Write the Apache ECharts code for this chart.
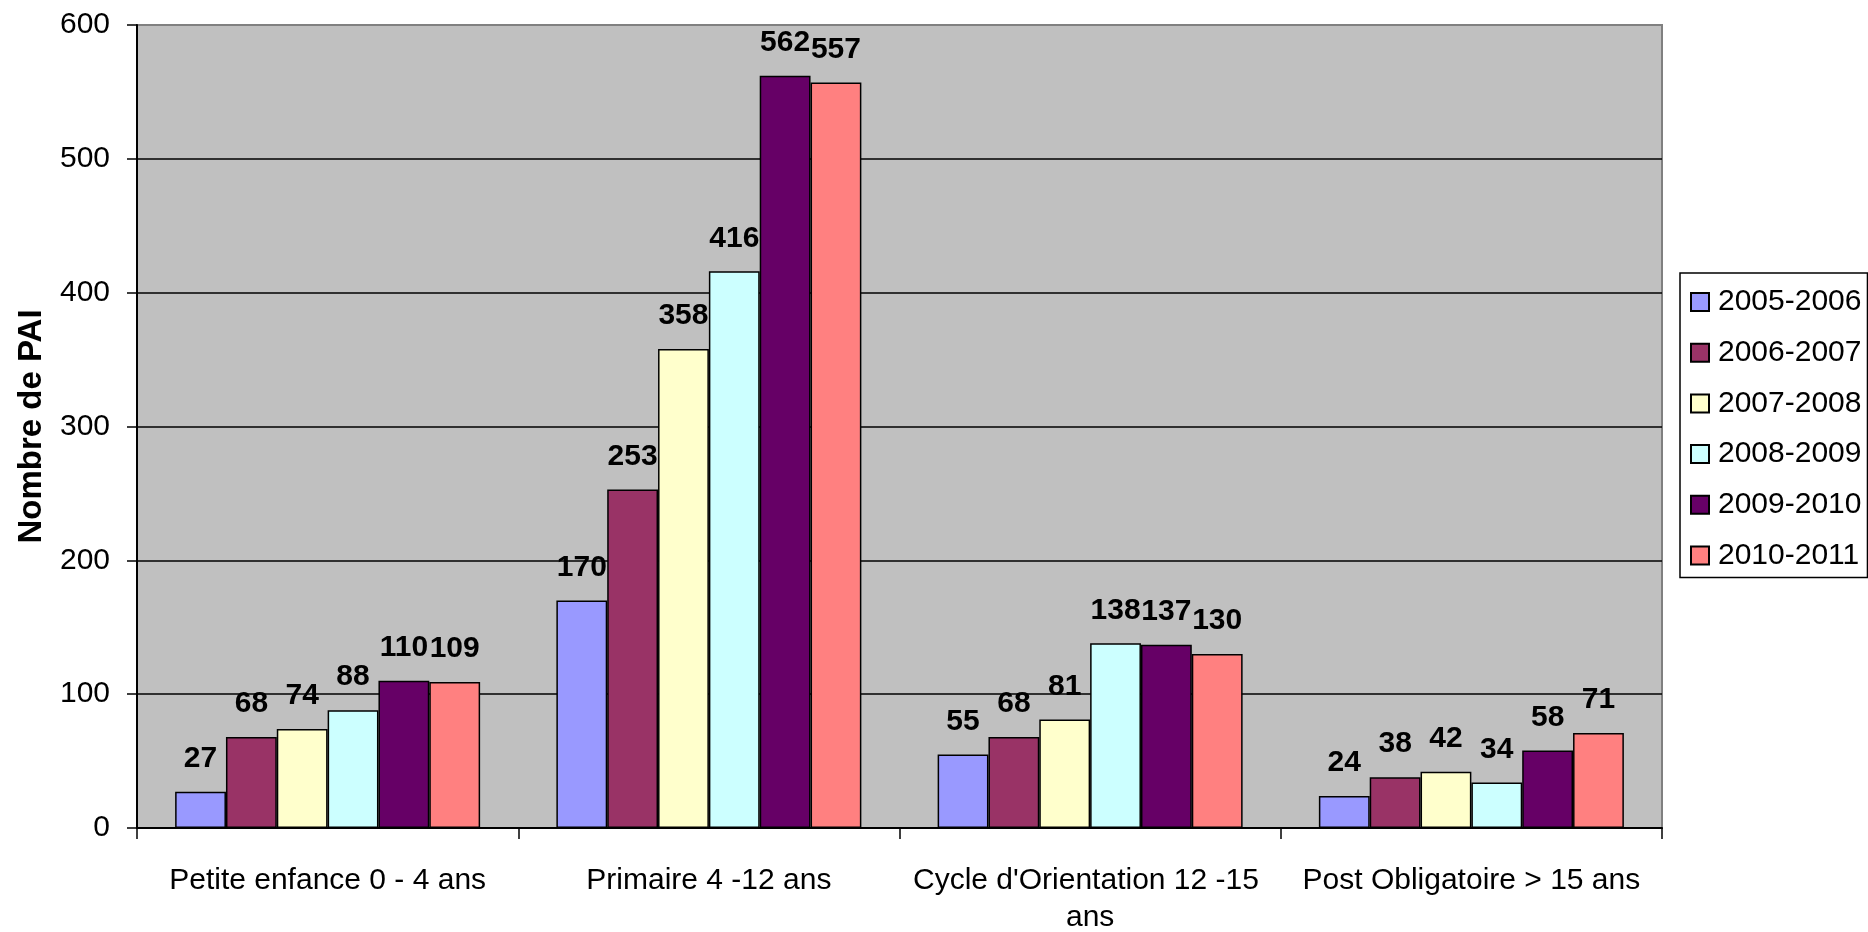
<!DOCTYPE html>
<html>
<head>
<meta charset="utf-8">
<script src="https://cdn.jsdelivr.net/npm/echarts@6/dist/echarts.min.js"></script>
<style>
  html, body { margin: 0; padding: 0; background: #ffffff; }
  #chart { width: 1868px; height: 932px; }
</style>
</head>
<body>
<div id="chart"></div>
<script>
// Age groups on the category axis
const categories = [
  'Petite enfance 0 - 4 ans',
  'Primaire 4 -12 ans',
  "Cycle d'Orientation 12 -15 ans",
  'Post Obligatoire > 15 ans'
];

// School years (one series each)
const years = ['2005-2006', '2006-2007', '2007-2008', '2008-2009', '2009-2010', '2010-2011'];

// Number of PAI per age group, one array per school year
const pai2005 = [27, 170, 55, 24];
const pai2006 = [68, 253, 68, 38];
const pai2007 = [74, 358, 81, 42];
const pai2008 = [88, 416, 138, 34];
const pai2009 = [110, 562, 137, 58];
const pai2010 = [109, 557, 130, 71];

// Value axis ticks
const yTicks = [0, 100, 200, 300, 400, 500, 600];

const seriesValues = [pai2005, pai2006, pai2007, pai2008, pai2009, pai2010];
const colors = ['#9999FF', '#993366', '#FFFFCC', '#CCFFFF', '#660066', '#FF8080'];

const FONT = '"Liberation Sans", Arial, sans-serif';

const chart = echarts.init(document.getElementById('chart'), null, { renderer: 'canvas' });

chart.setOption({
  animation: false,
  backgroundColor: '#ffffff',
  textStyle: { fontFamily: FONT, color: '#000' },
  grid: {
    left: 137, right: 206, top: 25, bottom: 104,
    containLabel: false,
    outerBoundsMode: 'none',
    show: true,
    backgroundColor: '#C0C0C0',
    borderColor: '#808080',
    borderWidth: 2
  },
  legend: {
    orient: 'vertical',
    left: 1680,
    top: 273,
    data: years,
    icon: 'rect',
    itemWidth: 18,
    itemHeight: 18,
    itemGap: 20.7,
    padding: [14, 6, 7, 10],
    borderColor: '#000',
    borderWidth: 1.5,
    backgroundColor: '#ffffff',
    textStyle: { fontFamily: FONT, fontSize: 30, color: '#000', lineHeight: 30, padding: [0, 0, 0, 4] }
  },
  xAxis: {
    type: 'category',
    data: categories,
    axisLine: { lineStyle: { color: '#000', width: 2 } },
    axisTick: { show: true, length: 11, lineStyle: { color: '#000', width: 1.5 } },
    axisLabel: {
      fontFamily: FONT, fontSize: 30, color: '#000',
      margin: 34, lineHeight: 37,
      width: 370, overflow: 'break', interval: 0
    },
    splitLine: { show: false }
  },
  yAxis: {
    type: 'value',
    min: yTicks[0],
    max: yTicks[yTicks.length - 1],
    interval: yTicks[1] - yTicks[0],
    name: 'Nombre de PAI',
    nameLocation: 'middle',
    nameRotate: 90,
    nameGap: 89,
    nameTextStyle: { fontFamily: FONT, fontSize: 33, fontWeight: 'bold', color: '#000' },
    axisLine: { show: true, lineStyle: { color: '#000', width: 2 } },
    axisTick: { show: true, length: 10, lineStyle: { color: '#000', width: 1.5 } },
    axisLabel: { fontFamily: FONT, fontSize: 30, color: '#000', margin: 27 },
    splitLine: { show: true, showMaxLine: false, lineStyle: { color: '#000', width: 1.5 } }
  },
  series: years.map((y, i) => ({
    name: y,
    type: 'bar',
    data: seriesValues[i],
    barGap: '0%',
    barCategoryGap: '20%',
    itemStyle: { color: colors[i], borderColor: '#000', borderWidth: 1.5 },
    label: {
      show: true,
      position: 'top',
      distance: 18,
      fontFamily: FONT,
      fontSize: 30,
      fontWeight: 'bold',
      color: '#000'
    }
  }))
});
</script>
</body>
</html>
